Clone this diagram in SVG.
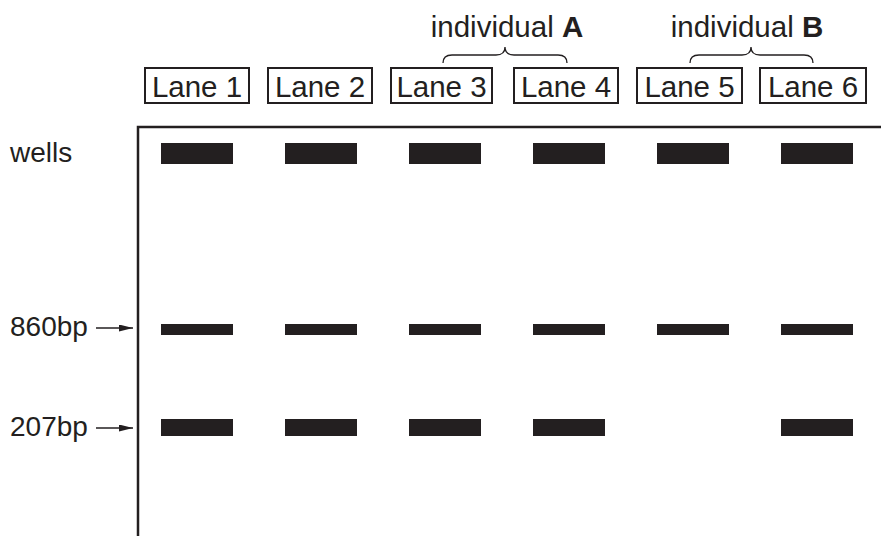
<svg xmlns="http://www.w3.org/2000/svg" width="881" height="536" viewBox="0 0 881 536">
<style>
text{font-family:"Liberation Sans",Arial,sans-serif;font-size:28px;fill:#231f20}
.lane text,.ind text{font-size:29.5px}
.lane rect{fill:none;stroke:#231f20;stroke-width:2}
.band{fill:#231f20}
.brace{fill:none;stroke:#231f20;stroke-width:1.3}
.arr{stroke:#231f20;stroke-width:1.5;fill:none}
</style>
<defs>
<marker id="ah" viewBox="0 0 14 7" refX="14" refY="3.5" markerWidth="14" markerHeight="7" markerUnits="userSpaceOnUse" orient="auto">
<path d="M0,0 L14,3.5 L0,7 Z" fill="#231f20"/>
</marker>
</defs>
<rect width="881" height="536" fill="#fff"/>
<g id="gel">
<path d="M138,536 V127 H881" fill="none" stroke="#231f20" stroke-width="2.5"/>
</g>
<g id="lane1" class="lane"><rect x="145" y="68" width="104" height="35"/><text x="197" y="97" text-anchor="middle">Lane 1</text></g>
<g id="lane2" class="lane"><rect x="268" y="68" width="104" height="35"/><text x="320" y="97" text-anchor="middle">Lane 2</text></g>
<g id="lane3" class="lane"><rect x="391" y="68" width="101" height="35"/><text x="441.5" y="97" text-anchor="middle">Lane 3</text></g>
<g id="lane4" class="lane"><rect x="514" y="68" width="104" height="35"/><text x="566" y="97" text-anchor="middle">Lane 4</text></g>
<g id="lane5" class="lane"><rect x="637" y="68" width="105" height="35"/><text x="689.5" y="97" text-anchor="middle">Lane 5</text></g>
<g id="lane6" class="lane"><rect x="760" y="68" width="106" height="35"/><text x="813" y="97" text-anchor="middle">Lane 6</text></g>
<g id="indA" class="ind">
<text x="507" y="37" text-anchor="middle">individual <tspan font-weight="bold">A</tspan></text>
<path class="brace" d="M443,63 Q443,55 452,55 H496 Q505,55 505,47 Q505,55 514,55 H558 Q567,55 567,63"/>
</g>
<g id="indB" class="ind">
<text x="747" y="37" text-anchor="middle">individual <tspan font-weight="bold">B</tspan></text>
<path class="brace" d="M690,63 Q690,55 699,55 H742 Q751,55 751,47 Q751,55 760,55 H804 Q813,55 813,63"/>
</g>
<g id="labels">
<text x="10" y="162">wells</text>
<text x="10" y="336">860bp</text>
<text x="10" y="436">207bp</text>
</g>
<g id="connectors">
<line class="arr" x1="96" y1="328" x2="133" y2="328" marker-end="url(#ah)"/>
<line class="arr" x1="96" y1="428" x2="133" y2="428" marker-end="url(#ah)"/>
</g>
<g id="wells">
<rect class="band" x="161" y="143" width="72" height="21"/>
<rect class="band" x="285" y="143" width="72" height="21"/>
<rect class="band" x="409" y="143" width="72" height="21"/>
<rect class="band" x="533" y="143" width="72" height="21"/>
<rect class="band" x="657" y="143" width="72" height="21"/>
<rect class="band" x="781" y="143" width="72" height="21"/>
</g>
<g id="bands860">
<rect class="band" x="161" y="324" width="72" height="11"/>
<rect class="band" x="285" y="324" width="72" height="11"/>
<rect class="band" x="409" y="324" width="72" height="11"/>
<rect class="band" x="533" y="324" width="72" height="11"/>
<rect class="band" x="657" y="324" width="72" height="11"/>
<rect class="band" x="781" y="324" width="72" height="11"/>
</g>
<g id="bands207">
<rect class="band" x="161" y="419" width="72" height="17"/>
<rect class="band" x="285" y="419" width="72" height="17"/>
<rect class="band" x="409" y="419" width="72" height="17"/>
<rect class="band" x="533" y="419" width="72" height="17"/>
<rect class="band" x="781" y="419" width="72" height="17"/>
</g>
</svg>
